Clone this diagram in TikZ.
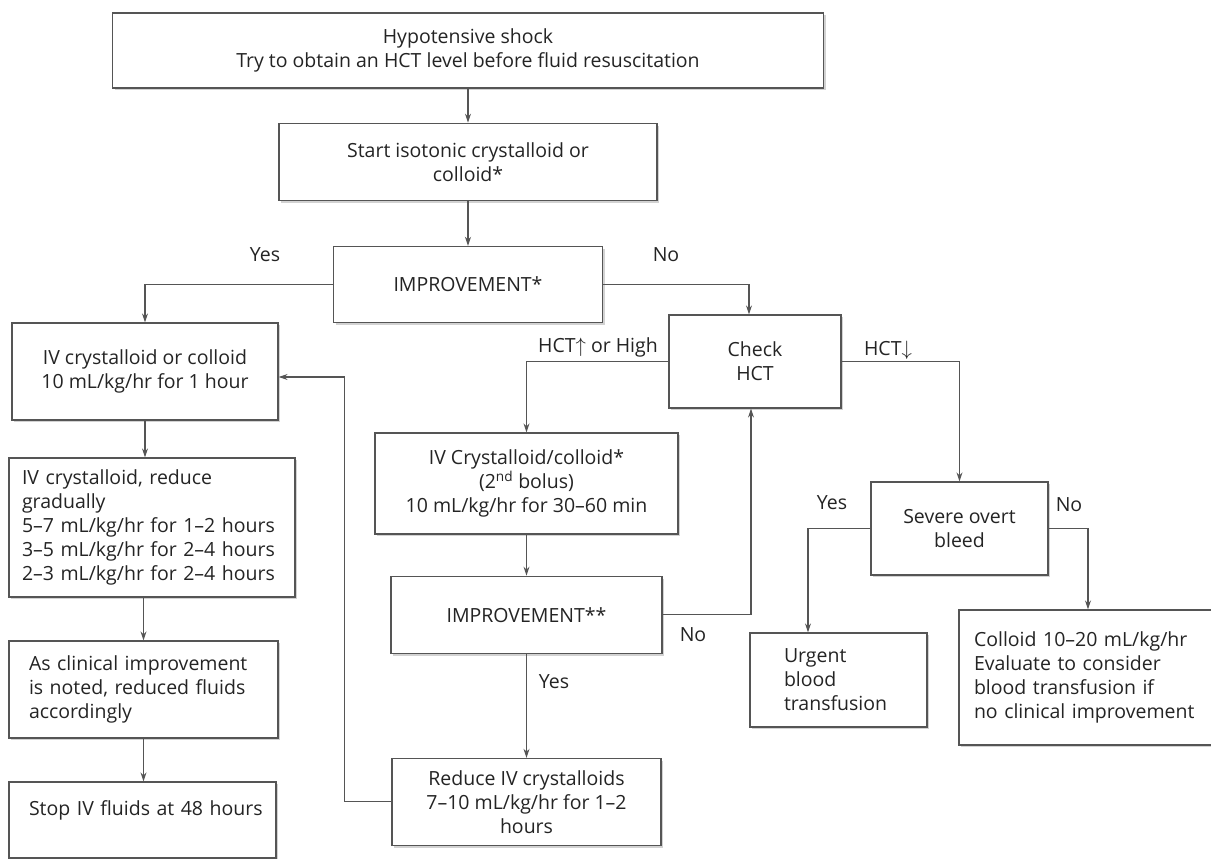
\documentclass[tikz,border=0pt]{standalone}
\usepackage{fontspec}
\setmainfont{Open Sans}
\usetikzlibrary{positioning, arrows.meta, shadows}

\definecolor{ink}{HTML}{242424}
\definecolor{wire}{HTML}{555555}

\begin{document}
\begin{tikzpicture}[x=1pt, y=-1pt, font=\fontsize{19.5}{24}\selectfont, text=ink,
	box/.style={draw=wire, line width=1.2pt, fill=white, align=center, inner sep=4pt,
		drop shadow={shadow xshift=2pt, shadow yshift=-2.4pt, fill=black!35}},
	lbox/.style={box, align=left},
	arr/.style={draw=wire, line width=1.1pt, -{Stealth[length=9pt, width=6pt]}},
	tag/.style={inner sep=1pt}]
	\useasboundingbox[fill=white] (0,0) rectangle (1211,859);

	% main column
	\node[box, minimum width=711pt, minimum height=75pt] (top) at (468,50.5) {Hypotensive shock\\Try to obtain an HCT level before fluid resuscitation};
	\node[box, minimum width=378pt, minimum height=77pt] (start) [below=34pt of top] {Start isotonic crystalloid or\\colloid*};
	\node[box, minimum width=269pt, minimum height=76pt] (imp1) [below=45pt of start] {IMPROVEMENT*};
	\node[box, minimum width=172pt, minimum height=93pt] (check) at (755,361.5) {Check\\HCT};
	\node[box, minimum width=303pt, minimum height=101pt] (bolus) at (526.5,483.5) {IV Crystalloid/colloid*\\(2\textsuperscript{nd} bolus)\\10 mL/kg/hr for 30--60 min};
	\node[box, minimum width=271pt, minimum height=77pt] (imp2) [below=41pt of bolus] {IMPROVEMENT**};
	\node[box, minimum width=269pt, minimum height=87pt] (reduce) [below=104pt of imp2] {Reduce IV crystalloids\\7--10 mL/kg/hr for 1--2\\hours};

	% left column
	\node[box, minimum width=266pt, minimum height=97pt] (ivcc) at (145,371.5) {IV crystalloid or colloid\\10 mL/kg/hr for 1 hour};
	\node[lbox, minimum width=286pt, minimum height=139pt, text width=260pt] (taper) at (152,527.5) {IV crystalloid, reduce\\gradually\\5--7 mL/kg/hr for 1--2 hours\\3--5 mL/kg/hr for 2--4 hours\\2--3 mL/kg/hr for 2--4 hours};
	\node[lbox, minimum width=269pt, minimum height=97pt, text width=229pt] (clinical) at (143.5,689.5) {As clinical improvement\\is noted, reduced fluids\\accordingly};
	\node[lbox, minimum width=267pt, minimum height=76pt, text width=227pt, text depth=24pt] (stop) at (142.5,820) {\mbox{Stop IV fluids at 48 hours}};

	% bleeding branch
	\node[box, minimum width=177pt, minimum height=93pt] (severe) at (959.5,528.5) {Severe overt\\bleed};
	\node[lbox, minimum width=177pt, minimum height=94pt, text width=109pt] (urgent) at (838.5,680) {Urgent\\blood\\transfusion};
	\node[lbox, minimum width=258pt, minimum height=135pt, text width=228pt] (colloid) at (1088,677.5) {Colloid 10--20 mL/kg/hr\\Evaluate to consider\\blood transfusion if\\no clinical improvement};

	% branch labels
	\node[tag] (yesA) at (265,255) {Yes};
	\node[tag] (noA) at (666,255) {No};
	\node[tag] (hctup) at (598,347) {HCT$\uparrow$ or High};
	\node[tag] (hctdown) at (888,350) {HCT$\downarrow$};
	\node[tag] (yesB) at (832,503) {Yes};
	\node[tag] (noB) at (1069,505) {No};
	\node[tag] (noC) at (693,635) {No};
	\node[tag] (yesC) at (554,682) {Yes};

	\draw[arr] (top) -- (start);
	\draw[arr] (start) -- (imp1);
	\draw[arr] (imp1.west) -| (ivcc.north);
	\draw[arr] (imp1.east) -| ([xshift=-6pt]check.north);
	\draw[arr] (check.west) -| (bolus.north);
	\draw[arr] (check.east) -| (severe.north);
	\draw[arr] (bolus) -- (imp2);
	\draw[arr] (imp2) -- (reduce);
	\draw[arr] (imp2.east) -| ([xshift=-4pt]check.south);
	\draw[arr] (reduce.west) -- ++(-47,0) |- ([yshift=-5.5pt]ivcc.east);
	\draw[arr] (ivcc.south) -- (ivcc.south |- taper.north);
	\draw[arr] (taper.south -| clinical) -- (clinical.north);
	\draw[arr] (clinical.south) -- (clinical.south |- stop.north);
	\draw[arr] (severe.west) -| ([xshift=-30.5pt]urgent.north);
	\draw[arr] (severe.east) -| (colloid.north);
\end{tikzpicture}
\end{document}
